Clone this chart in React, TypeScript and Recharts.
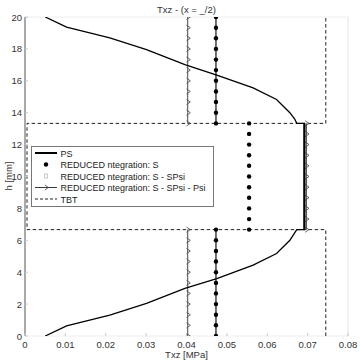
import React from "react";
import { ComposedChart, Scatter, XAxis, YAxis, Legend } from "recharts";

const FONT = "'Liberation Sans', Arial, sans-serif";

const xTicks = [0, 0.01, 0.02, 0.03, 0.04, 0.05, 0.06, 0.07, 0.08];
const xTickLabels = ["0", "0.01", "0.02", "0.03", "0.04", "0.05", "0.06", "0.07", "0.08"];
const yTicks = [0, 2, 4, 6, 8, 10, 12, 14, 16, 18, 20];

// PS curve (stress, height)
const psX = [0.005, 0.0103, 0.021, 0.0301, 0.0396, 0.0475, 0.0565, 0.0623, 0.0656, 0.0673, 0.0692, 0.0692, 0.0673, 0.0668, 0.0656, 0.0623, 0.0565, 0.0475, 0.0396, 0.0301, 0.021, 0.0103, 0.005];
const psY = [0, 0.63, 1.31, 2.04, 2.98, 3.6, 4.44, 5.17, 6.0, 6.67, 6.67, 13.33, 13.33, 13.6, 14.0, 14.83, 15.56, 16.35, 17.02, 17.96, 18.69, 19.37, 20];

// integration point heights per layer
const lowerH = [0, 0.67, 1.33, 2, 2.67, 3.33, 4, 4.67, 5.33, 6, 6.67];
const middleH = [6.67, 7.33, 8, 8.67, 9.33, 10, 10.67, 11.33, 12, 12.67, 13.33];
const upperH = [13.33, 14, 14.67, 15.33, 16, 16.67, 17.33, 18, 18.67, 19.33, 20];

// REDUCED integration values per layer
const sOuter = 0.0473;
const sMiddle = 0.0555;
const ssOuter = 0.0473;
const sspOuter = 0.0403;
const sspMiddle = 0.0697;
const psMiddle = 0.0692;

// TBT path
const tbtX = [0.0745, 0.0745, 0.0005, 0.0005, 0.0745, 0.0745];
const tbtY = [0, 6.67, 6.67, 13.33, 13.33, 20];

const psData = psX.map((x, i) => ({ x, y: psY[i] }));
const tbtData = tbtX.map((x, i) => ({ x, y: tbtY[i] }));
const layer = (hs: number[], x: number) => hs.map((y) => ({ x, y }));

const DotMark = (p: any) => <circle cx={p.cx} cy={p.cy} r={2.2} fill="#000" />;
const TriMark = (p: any) => (
  <path
    d={`M${p.cx - 1.2},${p.cy - 2.6} L${p.cx + 2.6},${p.cy} L${p.cx - 1.2},${p.cy + 2.6}`}
    fill="none"
    stroke="#555"
    strokeWidth={0.9}
  />
);
const NoMark = () => <g />;

const BottomTick = (p: any) => {
  const i = xTicks.indexOf(p.payload.value);
  return (
    <g>
      <line x1={p.x} x2={p.x} y1={p.y} y2={p.y - 3} stroke="#c8c8c8" />
      <text x={p.x} y={p.y + 12} textAnchor="middle" fontSize={9.5} fontFamily={FONT} fill="#333">
        {xTickLabels[i]}
      </text>
    </g>
  );
};
const LeftTick = (p: any) => (
  <g>
    <line x1={p.x} x2={p.x + 3} y1={p.y} y2={p.y} stroke="#c8c8c8" />
    <text x={p.x - 3} y={p.y + 3.5} textAnchor="end" fontSize={9.5} fontFamily={FONT} fill="#333">
      {p.payload.value}
    </text>
  </g>
);
const TopTick = (p: any) => <line x1={p.x} x2={p.x} y1={p.y} y2={p.y + 3} stroke="#c8c8c8" />;
const RightTick = (p: any) => <line x1={p.x} x2={p.x - 3} y1={p.y} y2={p.y} stroke="#999" />;

const legendRows = [
  "PS",
  "REDUCED ntegration: S",
  "REDUCED ntegration: S - SPsi",
  "REDUCED ntegration: S - SPsi - Psi",
  "TBT",
];
const legendRowY = [7, 18.5, 30, 41.5, 53];

const LegendBox = () => (
  <svg width={184} height={61} style={{ display: "block" }}>
    <rect x={0.5} y={0.5} width={182} height={60} fill="#fff" stroke="#777" />
    <line x1={4} x2={26} y1={7} y2={7} stroke="#000" strokeWidth={2} />
    <circle cx={15} cy={18.5} r={2.2} fill="#000" />
    <rect x={13.5} y={28} width={3} height={4} fill="none" stroke="#bbb" strokeWidth={0.8} />
    <line x1={4} x2={26} y1={41.5} y2={41.5} stroke="#222" strokeWidth={0.9} />
    <path d="M13.8,38.9 L17.4,41.5 L13.8,44.1" fill="none" stroke="#555" strokeWidth={0.9} />
    <line x1={4} x2={26} y1={53} y2={53} stroke="#222" strokeDasharray="3 2" />
    {legendRows.map((t, i) => (
      <text key={t} x={29.5} y={legendRowY[i] + 3.5} fontSize={9} fontFamily={FONT} fill="#222">
        {t}
      </text>
    ))}
  </svg>
);

export default function App() {
  return (
    <div style={{ position: "absolute", left: 0, top: 0, width: 360, height: 363, background: "#fff" }}>
      <ComposedChart width={360} height={363} margin={{ top: 16, right: 11, bottom: 0, left: 0 }}>
        <XAxis
          type="number"
          dataKey="x"
          domain={[0, 0.08]}
          ticks={xTicks}
          interval={0}
          height={27}
          tickSize={0}
          tickMargin={0}
          axisLine={{ stroke: "#eeeeee" }}
          tick={BottomTick}
          allowDataOverflow
          label={{ value: "Txz [MPa]", position: "insideBottom", offset: 5, fontSize: 9.5, fontFamily: FONT, fill: "#333" }}
        />
        <XAxis
          xAxisId="top"
          orientation="top"
          type="number"
          domain={[0, 0.08]}
          ticks={xTicks}
          interval={0}
          height={1}
          tickSize={0}
          tickMargin={0}
          axisLine={{ stroke: "#eeeeee" }}
          tick={TopTick}
        />
        <YAxis
          type="number"
          dataKey="y"
          domain={[0, 20]}
          ticks={yTicks}
          interval={0}
          width={25}
          tickSize={0}
          tickMargin={0}
          axisLine={{ stroke: "#555" }}
          tick={LeftTick}
          allowDataOverflow
          label={{
            content: () => (
              <text x={12} y={176} transform="rotate(-90 12 176)" textAnchor="middle" fontSize={9.5} fontFamily={FONT} fill="#333">
                h [mm]
              </text>
            ),
          }}
        />
        <YAxis
          yAxisId="right"
          orientation="right"
          type="number"
          domain={[0, 20]}
          ticks={yTicks}
          interval={0}
          width={1}
          tickSize={0}
          tickMargin={0}
          axisLine={{ stroke: "#e4e4e4" }}
          tick={RightTick}
        />
        <Legend
          layout="horizontal"
          verticalAlign="middle"
          align="center"
          content={LegendBox}
          wrapperStyle={{ position: "absolute", left: 31, top: 146, width: 184, height: 61 }}
        />

        <Scatter data={tbtData} line={{ stroke: "#222", strokeWidth: 1, strokeDasharray: "3.5 2.5" }} lineType="joint" shape={NoMark} isAnimationActive={false} legendType="none" />

        <Scatter data={layer(lowerH, ssOuter)} line={{ stroke: "#111", strokeWidth: 1.2 }} lineType="joint" shape={NoMark} isAnimationActive={false} legendType="none" />
        <Scatter data={layer(upperH, ssOuter)} line={{ stroke: "#111", strokeWidth: 1.2 }} lineType="joint" shape={NoMark} isAnimationActive={false} legendType="none" />

        <Scatter data={layer(lowerH, sspOuter)} line={{ stroke: "#333", strokeWidth: 0.9 }} lineType="joint" shape={TriMark} isAnimationActive={false} legendType="none" />
        <Scatter data={layer(upperH, sspOuter)} line={{ stroke: "#333", strokeWidth: 0.9 }} lineType="joint" shape={TriMark} isAnimationActive={false} legendType="none" />
        <Scatter data={layer(middleH, sspMiddle)} line={{ stroke: "#333", strokeWidth: 0.9 }} lineType="joint" shape={TriMark} isAnimationActive={false} legendType="none" />

        <Scatter data={psData} line={{ stroke: "#000", strokeWidth: 1.3 }} lineType="joint" shape={NoMark} isAnimationActive={false} legendType="none" />
        <Scatter data={layer(middleH, psMiddle)} line={{ stroke: "#000", strokeWidth: 2.2 }} lineType="joint" shape={NoMark} isAnimationActive={false} legendType="none" />

        <Scatter data={layer(lowerH, sOuter)} shape={DotMark} isAnimationActive={false} legendType="none" />
        <Scatter data={layer(upperH, sOuter)} shape={DotMark} isAnimationActive={false} legendType="none" />
        <Scatter data={layer(middleH, sMiddle)} shape={DotMark} isAnimationActive={false} legendType="none" />
      </ComposedChart>
      <div
        style={{
          position: "absolute",
          left: 0,
          top: 4,
          width: 373,
          textAlign: "center",
          fontSize: 9.5,
          fontFamily: FONT,
          color: "#333",
          lineHeight: "11px",
        }}
      >
        Txz - (x = _/2)
      </div>
    </div>
  );
}
